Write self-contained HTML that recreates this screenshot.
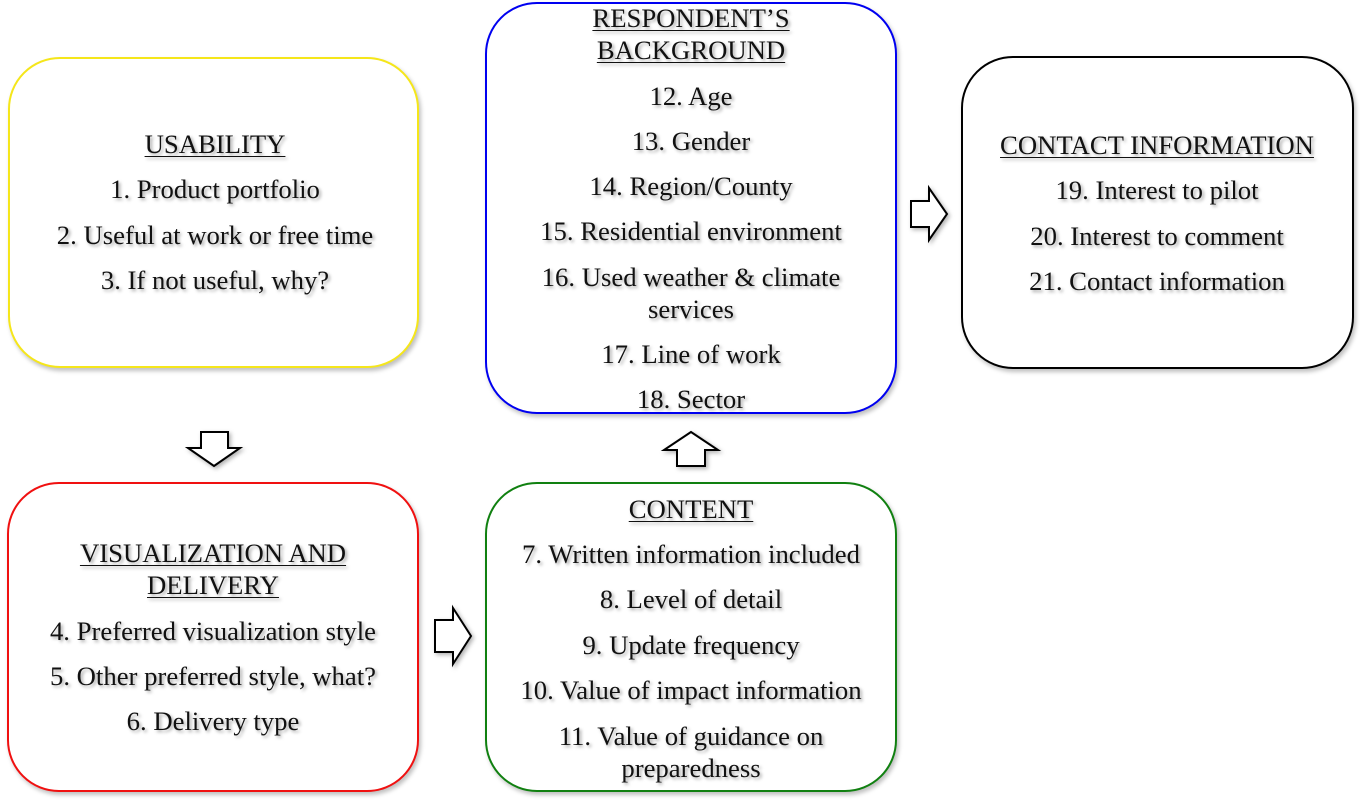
<!DOCTYPE html>
<html><head><meta charset="utf-8"><style>
body{margin:0;width:1360px;height:803px;background:#fff;position:relative;overflow:hidden;font-family:"Liberation Serif",serif;}
.b{position:absolute;border:2px solid;border-radius:52px;box-sizing:border-box;background:#fff;box-shadow:2px 3px 4px rgba(0,0,0,.25);}
.t{position:absolute;width:500px;margin-left:-250px;text-align:center;font-size:26.7px;line-height:30px;color:#111;text-shadow:2px 2px 3px rgba(0,0,0,.35);white-space:nowrap;}
.u{text-decoration:underline;text-decoration-thickness:1px;text-underline-offset:3px;}
svg{position:absolute;left:0;top:0;}
</style></head><body>
<div class="b" style="left:8px;top:57px;width:411px;height:311px;border-color:#f5e61a"></div>
<div class="b" style="left:485px;top:2px;width:412px;height:412px;border-color:#0000f0"></div>
<div class="b" style="left:961px;top:56px;width:393px;height:313px;border-color:#000"></div>
<div class="b" style="left:7px;top:482px;width:412px;height:310px;border-color:#f01010"></div>
<div class="b" style="left:485px;top:482px;width:412px;height:310px;border-color:#108010"></div>
<svg width="1360" height="803">
<g fill="#fff" stroke="#000" stroke-width="2" style="filter:drop-shadow(2px 2px 2px rgba(0,0,0,.3))">
<polygon points="201,432 228,432 228,448 240,448 214,466 188,448 201,448"/>
<polygon points="435,620 453,620 453,608 471,636 453,664 453,652 435,652"/>
<polygon points="677,466 705,466 705,450 718,450 691,432 664,450 677,450"/>
<polygon points="911,201 929,201 929,188 947,214 929,240 929,227 911,227"/>
</g></svg>
<div class="t u" style="left:215px;top:129px">USABILITY</div>
<div class="t" style="left:215px;top:174px">1. Product portfolio</div>
<div class="t" style="left:215px;top:220px">2. Useful at work or free time</div>
<div class="t" style="left:215px;top:265px">3. If not useful, why?</div>

<div class="t u" style="left:691px;top:3px">RESPONDENT’S</div>
<div class="t u" style="left:691px;top:35px">BACKGROUND</div>
<div class="t" style="left:691px;top:81px">12. Age</div>
<div class="t" style="left:691px;top:126px">13. Gender</div>
<div class="t" style="left:691px;top:171px">14. Region/County</div>
<div class="t" style="left:691px;top:216px">15. Residential environment</div>
<div class="t" style="left:691px;top:262px">16. Used weather &amp; climate</div>
<div class="t" style="left:691px;top:294px">services</div>
<div class="t" style="left:691px;top:339px">17. Line of work</div>
<div class="t" style="left:691px;top:384px">18. Sector</div>

<div class="t u" style="left:1157px;top:130px">CONTACT INFORMATION</div>
<div class="t" style="left:1157px;top:175px">19. Interest to pilot</div>
<div class="t" style="left:1157px;top:221px">20. Interest to comment</div>
<div class="t" style="left:1157px;top:266px">21. Contact information</div>

<div class="t u" style="left:213px;top:538px">VISUALIZATION AND</div>
<div class="t u" style="left:213px;top:570px">DELIVERY</div>
<div class="t" style="left:213px;top:616px">4. Preferred visualization style</div>
<div class="t" style="left:213px;top:661px">5. Other preferred style, what?</div>
<div class="t" style="left:213px;top:706px">6. Delivery type</div>

<div class="t u" style="left:691px;top:494px">CONTENT</div>
<div class="t" style="left:691px;top:539px">7. Written information included</div>
<div class="t" style="left:691px;top:584px">8. Level of detail</div>
<div class="t" style="left:691px;top:630px">9. Update frequency</div>
<div class="t" style="left:691px;top:675px">10. Value of impact information</div>
<div class="t" style="left:691px;top:721px">11. Value of guidance on</div>
<div class="t" style="left:691px;top:753px">preparedness</div>
</body></html>
